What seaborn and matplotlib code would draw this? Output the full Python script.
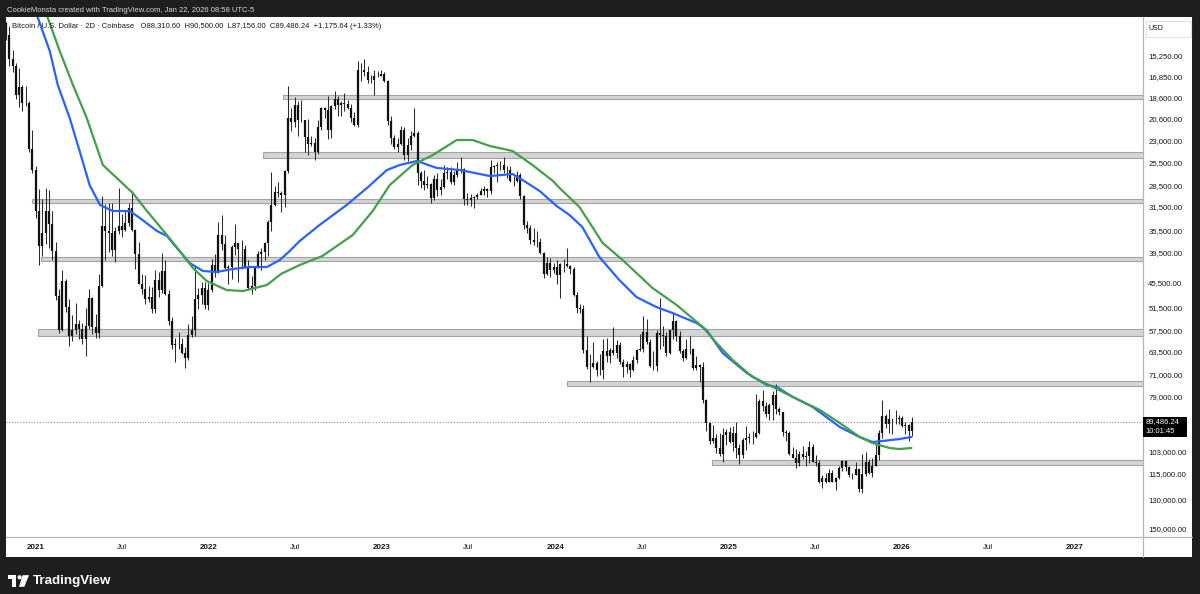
import numpy as np
import pandas as pd
import matplotlib
matplotlib.use("Agg")
import matplotlib.pyplot as plt
import matplotlib.dates as mdates
from matplotlib.patches import Rectangle, Circle, Polygon
from matplotlib.ticker import NullLocator
import seaborn as sns

# ------------------------------------------------------------------
# DATA (prices in thousands of USD), weekly candles
# ------------------------------------------------------------------
first_week = "2020-10-26"
first_open = 13.03

closes = [
    # 2020
    13.76, 15.48, 15.98, 18.37, 17.72, 19.15, 19.16, 23.85, 26.49, 32.19,
    # 2021
    38.2, 35.8, 32.3, 34.3, 39.2, 48.6, 57.4, 45.2, 51.2, 59.0, 57.4, 55.8, 57.0,
    59.8, 56.2, 49.0, 56.6, 58.2, 46.4, 34.7, 35.6, 35.8, 39.0, 35.6, 34.7, 35.3,
    34.2, 31.8, 35.4, 39.8, 45.9, 47.0, 49.3, 48.8, 51.8, 45.0, 47.2, 43.2, 48.2,
    54.9, 61.5, 61.3, 61.3, 64.0, 65.5, 58.7, 57.3, 49.4, 48.4, 46.7, 50.8, 47.3,
    # 2022
    41.9, 43.1, 36.3, 37.9, 42.4, 42.2, 38.4, 37.7, 38.8, 38.8, 42.2, 46.8, 46.4,
    42.2, 39.7, 39.4, 37.6, 34.1, 31.3, 29.4, 29.5, 29.9, 26.6, 20.6, 21.0, 19.3,
    20.8, 20.8, 22.6, 23.3, 23.2, 24.3, 21.5, 19.6, 19.8, 21.8, 19.4, 18.8, 19.3,
    19.1, 19.2, 19.6, 20.6, 21.3, 16.3, 16.3, 16.5, 17.1, 17.1, 16.8, 16.8, 16.6,
    # 2023
    17.2, 20.9, 22.7, 23.7, 23.3, 21.8, 24.6, 23.5, 22.4, 22.1, 26.9, 27.9, 28.5,
    28.3, 30.3, 27.6, 29.2, 28.7, 26.8, 26.7, 28.1, 27.1, 26.3, 26.3, 30.5, 30.6,
    30.3, 30.2, 29.8, 29.3, 29.0, 29.3, 26.1, 26.0, 25.8, 25.8, 26.5, 26.5, 27.9,
    27.9, 27.1, 30.0, 34.5, 35.0, 37.1, 37.4, 37.5, 39.5, 43.8, 41.4, 43.0, 42.3,
    # 2024
    43.9, 41.7, 41.6, 42.0, 42.6, 48.3, 51.6, 51.7, 63.1, 68.4, 68.4, 67.2, 69.6,
    69.4, 63.4, 64.9, 63.1, 64.0, 61.5, 67.0, 68.5, 67.5, 69.6, 66.2, 63.2, 62.7,
    58.0, 60.8, 68.1, 68.2, 58.2, 58.7, 58.9, 64.2, 57.3, 54.8, 59.1, 63.6, 65.6,
    62.8, 62.9, 69.0, 68.0, 68.7, 80.4, 89.8, 97.9, 96.4, 101.2, 104.3, 95.2, 94.0, 98.4,
    # 2025
    94.5, 101.3, 104.7, 97.7, 96.5, 96.1, 96.2, 94.2, 80.7, 82.6, 86.1, 82.4, 78.4,
    83.8, 85.2, 93.7, 94.3, 104.3, 106.5, 109.0, 104.6, 105.7, 105.5, 100.9, 108.4, 109.2,
    119.8, 117.3, 119.4, 114.2, 119.3, 117.4, 111.8, 108.2, 111.1, 115.3, 115.3, 112.2, 123.5,
    115.2, 108.6, 114.5, 110.5, 104.7, 94.2, 86.8, 90.4, 88.2, 88.2, 88.1, 87.8, 91.4,
    # 2026
    90.7, 93.6, 89.49,
]

highs = [
    # 2020
    14.09, 15.97, 16.48, 18.80, 19.48, 19.92, 19.42, 24.30, 26.87, 33.30,
    # 2021
    41.95, 40.1, 37.8, 38.5, 40.9, 49.7, 58.3, 57.5, 52.6, 61.8, 60.6, 58.4, 60.0,
    61.2, 64.9, 57.0, 58.5, 59.5, 59.6, 46.6, 40.9, 39.4, 40.0, 41.3, 36.0, 36.6,
    35.5, 34.6, 35.5, 42.6, 46.0, 48.1, 50.5, 50.0, 52.9, 52.9, 48.8, 48.0, 48.4,
    56.1, 62.9, 67.0, 63.0, 64.3, 69.0, 66.3, 59.2, 59.1, 51.9, 50.5, 51.9, 52.1,
    # 2022
    47.6, 44.4, 43.5, 38.9, 42.6, 45.8, 44.8, 39.9, 45.4, 42.6, 42.4, 47.0, 48.2,
    47.2, 42.4, 42.9, 40.8, 40.0, 35.5, 31.5, 30.2, 32.4, 31.7, 26.9, 21.9, 21.5,
    22.5, 21.0, 24.3, 24.6, 23.6, 25.2, 24.5, 21.8, 20.6, 22.8, 22.7, 19.7, 20.4,
    20.4, 19.9, 19.7, 21.0, 21.4, 21.5, 17.2, 16.8, 17.4, 17.4, 18.4, 16.9, 16.8,
    # 2023
    17.3, 21.3, 23.3, 23.9, 24.2, 23.4, 25.2, 25.3, 24.0, 22.6, 28.5, 28.8, 29.2,
    28.8, 31.0, 30.6, 30.0, 29.8, 28.9, 27.6, 28.3, 28.4, 27.4, 26.8, 31.4, 31.3,
    31.5, 31.8, 30.4, 29.9, 29.8, 30.2, 29.7, 26.8, 28.1, 26.4, 26.9, 27.5, 28.0,
    28.6, 28.0, 30.5, 35.2, 35.9, 37.9, 38.0, 38.4, 39.7, 44.5, 44.0, 44.4, 43.6,
    # 2024
    45.9, 49.0, 43.3, 42.2, 43.8, 48.6, 52.8, 52.9, 64.0, 69.1, 73.8, 68.9, 71.7,
    71.3, 72.8, 66.9, 67.2, 64.8, 65.5, 67.7, 71.9, 70.6, 72.0, 70.0, 67.2, 63.5,
    63.8, 61.4, 68.4, 69.4, 70.0, 62.7, 61.8, 65.0, 64.5, 59.8, 60.6, 64.1, 66.5,
    66.0, 64.5, 69.5, 69.5, 73.6, 81.5, 93.5, 99.6, 98.9, 104.0, 105.3, 108.4, 99.9, 99.0,
    # 2025
    102.7, 106.4, 109.6, 106.4, 102.5, 98.8, 99.5, 96.5, 95.0, 84.7, 87.5, 88.7, 88.5,
    86.0, 86.4, 95.8, 97.9, 104.9, 106.6, 111.9, 110.7, 106.8, 110.6, 108.9, 108.5, 110.5,
    119.9, 123.2, 120.2, 119.8, 119.4, 124.5, 117.6, 113.4, 113.4, 116.8, 117.9, 115.5, 125.6,
    126.2, 115.9, 114.9, 116.4, 110.8, 107.5, 96.6, 92.0, 94.1, 94.6, 90.3, 90.5, 91.8,
    # 2026
    94.8, 97.9, 95.5,
]

lows = [
    # 2020
    12.95, 13.22, 14.82, 15.78, 16.19, 17.57, 17.62, 19.00, 21.81, 26.00,
    # 2021
    29.0, 30.4, 28.8, 29.2, 32.3, 37.4, 47.0, 43.0, 44.9, 49.3, 53.3, 50.4, 54.6,
    55.5, 51.5, 47.0, 48.8, 53.0, 43.8, 30.0, 31.2, 31.0, 31.0, 34.9, 28.8, 32.7,
    32.1, 31.0, 29.3, 35.2, 37.5, 43.8, 43.9, 46.4, 46.5, 42.8, 43.4, 39.6, 40.8,
    47.3, 53.9, 59.6, 58.0, 59.5, 62.3, 55.6, 53.5, 42.0, 46.8, 45.5, 45.5, 45.7,
    # 2022
    40.6, 39.7, 34.0, 32.9, 36.3, 41.8, 38.0, 34.3, 37.6, 37.2, 38.1, 40.9, 44.2,
    42.1, 39.2, 38.6, 37.4, 33.7, 26.7, 28.6, 28.0, 29.3, 26.5, 17.6, 19.6, 18.6,
    19.0, 18.9, 20.8, 20.7, 22.4, 22.7, 20.8, 19.5, 19.5, 18.5, 19.3, 18.1, 18.5,
    19.0, 18.2, 18.9, 19.2, 20.0, 15.6, 15.8, 15.5, 16.0, 16.7, 16.3, 16.4, 16.3,
    # 2023
    16.5, 17.1, 20.4, 22.3, 22.7, 21.4, 21.5, 22.7, 21.9, 19.6, 21.9, 26.6, 26.5,
    27.3, 28.2, 27.1, 26.9, 27.7, 25.8, 26.1, 26.1, 26.6, 25.4, 24.8, 26.2, 29.6,
    29.7, 30.0, 29.5, 28.9, 28.6, 28.8, 25.2, 25.8, 25.4, 25.3, 24.9, 26.0, 26.0,
    27.2, 26.6, 26.9, 29.9, 33.9, 34.5, 35.0, 35.6, 36.7, 39.4, 40.2, 40.5, 41.5,
    # 2024
    40.8, 41.5, 40.6, 38.5, 41.8, 42.3, 47.7, 50.5, 50.9, 59.0, 64.5, 60.8, 66.5,
    64.5, 60.0, 59.7, 62.4, 56.5, 60.2, 60.8, 66.1, 66.7, 67.3, 65.0, 63.0, 58.4,
    53.5, 54.3, 60.0, 63.5, 57.3, 49.0, 56.2, 57.8, 57.2, 52.5, 54.6, 57.6, 62.7,
    59.8, 58.9, 62.4, 65.1, 67.5, 66.8, 79.9, 89.4, 90.8, 94.6, 94.2, 92.2, 92.5, 91.8,
    # 2025
    91.2, 89.3, 99.5, 96.6, 91.2, 94.1, 93.4, 78.2, 80.0, 76.6, 81.2, 81.6, 77.1,
    74.5, 83.1, 85.1, 92.9, 93.4, 100.8, 102.1, 103.1, 100.4, 102.8, 98.2, 99.6, 105.1,
    107.5, 115.7, 114.7, 112.0, 112.6, 116.8, 110.6, 107.3, 107.3, 110.8, 114.4, 108.6, 111.8,
    104.6, 103.5, 106.8, 106.3, 98.9, 93.0, 80.6, 86.1, 84.0, 87.6, 84.4, 86.6, 86.9,
    # 2026
    89.3, 90.2, 87.2,
]

# moving averages (thousands USD)
blue_dates = [
    "2020-12-18", "2021-01-05", "2021-01-30", "2021-02-16", "2021-03-13", "2021-04-03",
    "2021-04-24", "2021-05-16", "2021-06-12", "2021-07-18", "2021-08-08", "2021-09-13",
    "2021-10-04", "2021-10-25", "2021-11-21", "2021-12-19", "2022-01-17", "2022-02-20",
    "2022-03-28", "2022-05-03", "2022-05-30", "2022-06-20", "2022-07-11", "2022-08-22",
    "2022-10-18", "2022-11-30", "2023-01-11", "2023-02-07", "2023-03-15", "2023-04-26",
    "2023-06-14", "2023-08-16", "2023-10-03", "2023-10-24", "2023-11-29", "2024-01-04",
    "2024-01-31", "2024-02-27", "2024-04-03", "2024-05-15", "2024-06-20", "2024-08-01",
    "2024-09-04", "2024-10-25", "2024-11-15", "2024-12-19", "2025-02-08", "2025-03-22",
    "2025-04-12", "2025-05-16", "2025-06-27", "2025-08-23", "2025-10-04", "2025-10-31",
    "2025-11-21", "2025-12-27", "2026-01-21",
]
blue_vals = [
    11.36, 12.69, 14.89, 17.55, 20.58, 24.14, 28.45, 31.34, 32.26, 32.26, 33.37, 35.53,
    36.40, 38.57, 41.47, 43.11, 43.32, 42.69, 42.28, 42.28, 40.88, 39.14, 37.29, 34.51,
    31.34, 28.86, 26.46, 25.83, 25.33, 26.20, 26.46, 27.24, 26.98, 27.77, 29.28, 31.49,
    32.89, 34.85, 40.29, 45.03, 48.88, 51.30, 52.81, 55.43, 57.34, 64.08, 70.58, 74.80,
    75.52, 79.26, 83.19, 91.63, 96.17, 98.52, 98.05, 97.10, 96.17,
]
green_dates = [
    "2021-01-08", "2021-01-26", "2021-02-20", "2021-03-20", "2021-04-18", "2021-05-22",
    "2021-06-27", "2021-07-24", "2021-08-23", "2021-10-04", "2021-10-31", "2021-11-28",
    "2021-12-27", "2022-02-07", "2022-03-13", "2022-05-03", "2022-06-02", "2022-07-11",
    "2022-08-28", "2022-10-31", "2022-12-12", "2023-01-17", "2023-03-06", "2023-04-18",
    "2023-06-07", "2023-07-11", "2023-08-16", "2023-10-03", "2023-11-14", "2023-12-27",
    "2024-01-10", "2024-02-21", "2024-04-10", "2024-05-22", "2024-07-24", "2024-09-13",
    "2024-11-07", "2024-12-06", "2025-01-09", "2025-02-20", "2025-04-04", "2025-05-16",
    "2025-07-12", "2025-08-23", "2025-10-04", "2025-10-31", "2025-12-06", "2025-12-27",
    "2026-01-21",
]
green_vals = [
    11.36, 12.69, 14.89, 17.55, 20.58, 25.83, 27.90, 29.57, 32.26, 36.22, 39.14, 42.49,
    45.25, 47.26, 47.49, 46.13, 43.70, 41.88, 40.09, 36.22, 32.26, 28.45, 25.83, 24.61,
    22.89, 22.89, 23.56, 24.14, 25.83, 27.90, 28.86, 31.64, 37.65, 40.88, 46.80, 50.81,
    56.51, 61.05, 66.28, 71.96, 75.52, 79.26, 84.40, 89.88, 96.17, 99.00, 101.42, 101.91,
    101.42,
]

# horizontal support/resistance zones (start date, low, high in thousands)
zone_start = ["2022-06-06", "2022-04-25", "2020-12-24", "2021-01-11",
              "2021-01-05", "2024-01-26", "2024-11-26"]
zone_lo = [18.42, 24.25, 30.51, 40.27, 56.93, 73.32, 107.29]
zone_hi = [18.78, 24.97, 31.03, 41.06, 59.03, 75.11, 109.92]

# axis labels
ytick_vals = [15250, 16850, 18600, 20600, 23000, 25500, 28500, 31500, 35500, 39500,
              45500, 51500, 57500, 63500, 71000, 79000, 103000, 115000, 130000, 150000]
xtick_dates = ["2021-01-01", "2021-07-01", "2022-01-01", "2022-07-01", "2023-01-01",
               "2023-07-01", "2024-01-01", "2024-07-01", "2025-01-01", "2025-07-01",
               "2026-01-01", "2026-07-01", "2027-01-01"]
xtick_labels = ["2021", "Jul", "2022", "Jul", "2023", "Jul", "2024", "Jul", "2025",
                "Jul", "2026", "Jul", "2027"]

last_ohlc = [88310.60, 90500.00, 87156.00, 89486.24]
last_change = 1175.64
last_change_pct = 1.33
countdown = "10:01:45"

assert len(closes) == len(highs) == len(lows)
assert len(blue_dates) == len(blue_vals) and len(green_dates) == len(green_vals)

# ------------------------------------------------------------------
# FIGURE
# ------------------------------------------------------------------
sns.set_theme(style="white")
plt.rcParams["font.family"] = ["Liberation Sans", "DejaVu Sans"]

W, H = 1200, 594
DARK = "#1e1e1e"
TXT = "#131722"
SEP = "#b2b5be"
fig = plt.figure(figsize=(W / 100, H / 100), dpi=100, facecolor=DARK)

bg = fig.add_axes([0, 0, 1, 1], zorder=-5)
bg.set_xlim(0, W); bg.set_ylim(H, 0); bg.axis("off")
bg.add_patch(Rectangle((6, 16.5), 1186, 540.5, facecolor="white", edgecolor="none"))

PL, PR, PT, PB = 6, 1143, 16.5, 537
ax = fig.add_axes([PL / W, 1 - PB / H, (PR - PL) / W, (PB - PT) / H], zorder=1)
ax.set_facecolor("none")
ax.set_yscale("log")

# candles
weeks = pd.date_range(first_week, periods=len(closes), freq="7D")
xc = mdates.date2num(weeks) + 3.5
c = np.array(closes) * 1000
o = np.array([first_open] + closes[:-1]) * 1000
hi = np.array(highs) * 1000
lo = np.array(lows) * 1000
ax.vlines(xc, lo, hi, color="#2b2b2b", lw=0.75, zorder=2)
ax.vlines(xc, np.minimum(o, c), np.maximum(o, c), color="#111111", lw=1.6,
          zorder=2.1, capstyle="butt")

# x scale
d2021 = mdates.date2num(pd.Timestamp("2021-01-01"))
d2027 = mdates.date2num(pd.Timestamp("2027-01-01"))
ppd = (1075 - 36) / (d2027 - d2021)
xl0 = d2021 - (36 - PL) / ppd
xl1 = d2021 + (PR - 36) / ppd

# zones
for s, zl, zh in zip(zone_start, zone_lo, zone_hi):
    xs = mdates.date2num(pd.Timestamp(s))
    ax.add_patch(Rectangle((xs, zl * 1000), xl1 + 30 - xs, (zh - zl) * 1000,
                           facecolor="#d4d4d4", edgecolor="#a3a3a3", lw=0.8, zorder=1.5))

# moving averages
sns.lineplot(x=mdates.date2num(pd.to_datetime(blue_dates)), y=np.array(blue_vals) * 1000,
             ax=ax, color="#2962ff", lw=1.6, zorder=3, sort=False, estimator=None)
sns.lineplot(x=mdates.date2num(pd.to_datetime(green_dates)), y=np.array(green_vals) * 1000,
             ax=ax, color="#43a047", lw=1.6, zorder=3, sort=False, estimator=None)

# last price dotted line
ax.axhline(last_ohlc[3], color="#8f8f8f", lw=0.8, ls=(0, (1, 1.5)), zorder=1.2)

# y scale (inverted log)
def px_to_price(py):
    return 15250 * np.exp((py - 56) / 206.9)

ax.set_xlim(xl0, xl1)
ax.set_ylim(px_to_price(PB), px_to_price(PT))

ax.yaxis.tick_right()
ax.set_yticks(ytick_vals)
ax.set_yticklabels([f"{v:,.2f}" for v in ytick_vals])
ax.yaxis.set_minor_locator(NullLocator())
ax.tick_params(axis="y", length=0, pad=3.8, labelsize=5.6, labelcolor=TXT)

ax.set_xticks(mdates.date2num(pd.to_datetime(xtick_dates)))
ax.set_xticklabels(xtick_labels)
ax.xaxis.set_minor_locator(NullLocator())
ax.tick_params(axis="x", length=0, pad=5.0, labelsize=5.8, labelcolor=TXT)
for t in ax.get_xticklabels():
    if t.get_text().isdigit():
        t.set_fontweight("bold")
ax.set_xlabel(""); ax.set_ylabel("")
ax.grid(False)
for s in ["top", "left"]:
    ax.spines[s].set_visible(False)
for s in ["right", "bottom"]:
    ax.spines[s].set_color(SEP)
    ax.spines[s].set_linewidth(0.9)
if ax.get_legend():
    ax.get_legend().remove()

# ------------------------------------------------------------------
# OVERLAY (pixel coordinates, y downward)
# ------------------------------------------------------------------
ov = fig.add_axes([0, 0, 1, 1], zorder=10)
ov.set_xlim(0, W); ov.set_ylim(H, 0); ov.axis("off"); ov.patch.set_alpha(0)

ov.plot([PR, 1192], [PB, PB], color=SEP, lw=0.9)
ov.plot([PR, PR], [PB, 557], color=SEP, lw=0.9)

renderer = fig.canvas.get_renderer()

def fit(t, width):
    w = t.get_window_extent(renderer=renderer).width
    t.set_fontsize(t.get_fontsize() * width / w)

t1 = ov.text(7, 10, "CookieMonsta created with TradingView.com, Jan 22, 2026 08:58 UTC-5",
             color="#d8d8d8", fontsize=6, va="center", ha="left")
fit(t1, 248)

legend_txt = ("Bitcoin / U.S. Dollar \u00b7 2D \u00b7 Coinbase   "
              f"O{last_ohlc[0]:,.2f}  H{last_ohlc[1]:,.2f}  L{last_ohlc[2]:,.2f}  "
              f"C{last_ohlc[3]:,.2f}  +{last_change:,.2f} (+{last_change_pct:.2f}%)")
t2 = ov.text(11.7, 26.8, legend_txt, color=TXT, fontsize=6, va="center", ha="left")
fit(t2, 374)

# USD box
ov.add_patch(Rectangle((1145.5, 20.5), 45, 16.5, facecolor="white", edgecolor="#e0e3eb", lw=0.8))
ov.text(1148.5, 29, "USD", color=TXT, fontsize=5.0, va="center", ha="left")

# current price label
disp = ax.transData.transform((xl0, last_ohlc[3]))
_, yp = ov.transData.inverted().transform(disp)
ov.add_patch(Rectangle((PR, yp - 5.5), 43.5, 20.0, facecolor="#000000", edgecolor="none"))
tp = ov.text(1145.5, yp - 0.3, f"{last_ohlc[3]:,.2f}", color="white", fontsize=5.2,
             va="center", ha="left")
fit(tp, 34)
tc = ov.text(1145.5, yp + 8.9, countdown, color="white", fontsize=5.2, va="center", ha="left")
tc.set_fontsize(tp.get_fontsize())

# TradingView logo
ov.add_patch(Rectangle((7.7, 575.2), 8.5, 4.0, facecolor="white", edgecolor="none"))
ov.add_patch(Rectangle((12.2, 575.2), 4.0, 11.6, facecolor="white", edgecolor="none"))
ov.add_patch(Circle((19.6, 577.3), 2.1, facecolor="white", edgecolor="none"))
ov.add_patch(Polygon([(22.6, 575.2), (29.0, 575.2), (24.3, 586.8), (19.0, 586.8)],
                     closed=True, facecolor="white", edgecolor="none"))
t3 = ov.text(32.5, 581, "TradingView", color="white", fontsize=10, va="center", ha="left",
             fontweight="bold")
fit(t3, 78.5)

fig.savefig("out.png", dpi=100, facecolor=DARK)
